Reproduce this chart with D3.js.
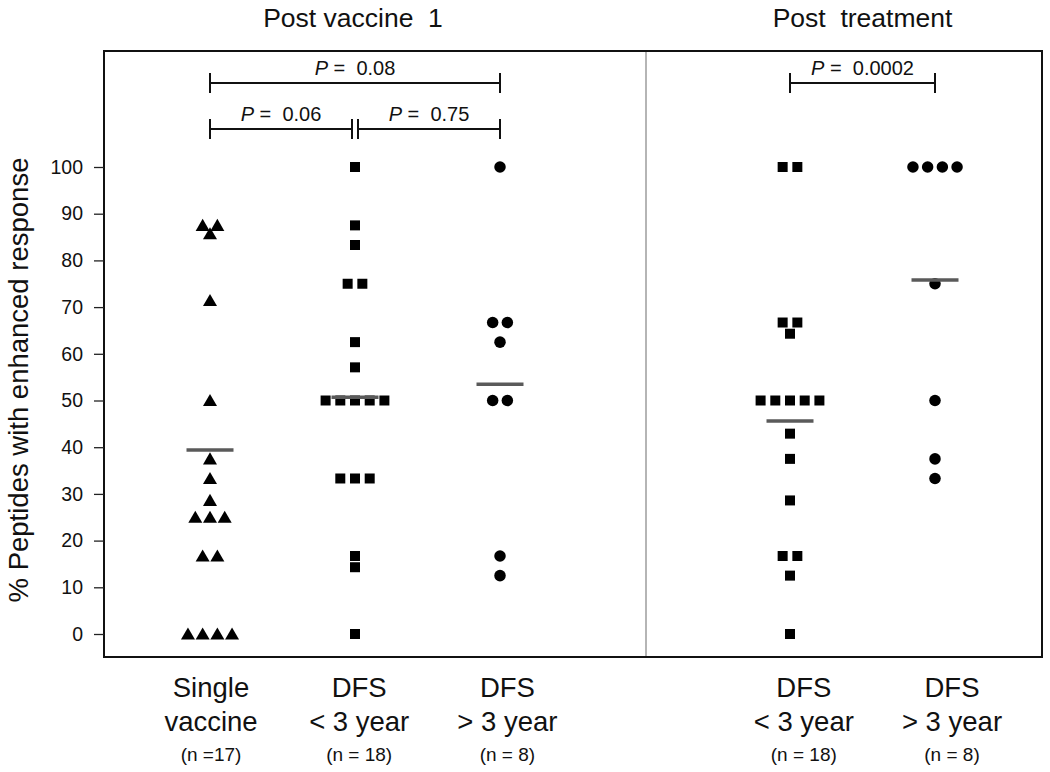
<!DOCTYPE html>
<html>
<head>
<meta charset="utf-8">
<script src="https://cdn.jsdelivr.net/npm/d3@7"></script>
<style>
  html, body { margin: 0; padding: 0; background: #fff; }
  svg { display: block; font-family: "Liberation Sans", Arial, Helvetica, sans-serif; }
  text { white-space: pre; }
</style>
</head>
<body>
<svg id="chart" width="1050" height="772"></svg>
<script>
// ---------------- DATA ----------------
const yTicks = [0, 10, 20, 30, 40, 50, 60, 70, 80, 90, 100];

const panelTitles = ["Post vaccine  1", "Post  treatment"];

const groupKeys = ["single", "pv1Lt3", "pv1Gt3", "ptLt3", "ptGt3"];
const slotKeys = ["single", "pv1Lt3", "pv1Gt3", "gap", "ptLt3", "ptGt3"];

const categoryLine1 = ["Single", "DFS", "DFS", "DFS", "DFS"];
const categoryLine2 = ["vaccine", "< 3 year", "> 3 year", "< 3 year", "> 3 year"];
const categoryN = ["(n =17)", "(n = 18)", "(n = 8)", "(n = 18)", "(n = 8)"];

const singleVaccine = [87.5, 87.5, 85.7, 71.4, 50, 37.5, 33.3, 28.6, 25, 25, 25, 16.7, 16.7, 0, 0, 0, 0];
const postVaccineDfsLt3 = [100, 87.5, 83.3, 75, 75, 62.5, 57.1, 50, 50, 50, 50, 50, 33.3, 33.3, 33.3, 16.7, 14.3, 0];
const postVaccineDfsGt3 = [100, 66.7, 66.7, 62.5, 50, 50, 16.7, 12.5];
const postTreatDfsLt3 = [100, 100, 66.7, 66.7, 64.3, 50, 50, 50, 50, 50, 42.9, 37.5, 28.6, 16.7, 16.7, 12.5, 0];
const postTreatDfsGt3 = [100, 100, 100, 100, 75, 50, 37.5, 33.3];

const groupMeans = [39.4, 50.7, 53.5, 45.6, 75.8];

const comparisonFrom = ["single", "single", "pv1Lt3", "ptLt3"];
const comparisonTo = ["pv1Gt3", "pv1Lt3", "pv1Gt3", "ptGt3"];
const comparisonP = ["0.08", "0.06", "0.75", "0.0002"];
const comparisonLevel = [1, 0, 0, 1];

// ---------------- LAYOUT ----------------
const seriesValues = [singleVaccine, postVaccineDfsLt3, postVaccineDfsGt3, postTreatDfsLt3, postTreatDfsGt3];
const groupShapes = [d3.symbolTriangle, d3.symbolSquare, d3.symbolCircle, d3.symbolSquare, d3.symbolCircle];
const shapeSizes = [85, 100, 104, 100, 104];

const frame = { left: 104, right: 1042, top: 51, bottom: 657 };
const svg = d3.select("#chart");

const y = d3.scaleLinear().domain([0, 100]).range([634, 167]);
const x = d3.scalePoint().domain(slotKeys).range([210, 935]);
const xLabel = d3.scalePoint().domain(slotKeys).range([211, 952]);
const dividerX = x("gap") + 1;
const swarmStep = 14.7;

// frame
svg.append("rect")
  .attr("x", frame.left).attr("y", frame.top)
  .attr("width", frame.right - frame.left).attr("height", frame.bottom - frame.top)
  .attr("fill", "none").attr("stroke", "#111").attr("stroke-width", 2);
svg.append("line")
  .attr("x1", dividerX).attr("x2", dividerX)
  .attr("y1", frame.top + 1).attr("y2", frame.bottom - 1)
  .attr("stroke", "#b5b5b5").attr("stroke-width", 2);

// y axis
const yAxis = d3.axisLeft(y).tickValues(yTicks).tickSize(10).tickPadding(11);
const gy = svg.append("g").attr("transform", `translate(${frame.left},0)`).call(yAxis);
gy.select(".domain").remove();
gy.selectAll(".tick line").attr("stroke", "#222").attr("stroke-width", 1.3);
gy.selectAll(".tick text").attr("font-size", 19.5).attr("fill", "#111")
  .attr("font-family", "'Liberation Sans', Arial, sans-serif");

// y label
svg.append("text")
  .attr("transform", `translate(28,380) rotate(-90)`)
  .attr("text-anchor", "middle").attr("font-size", 27.5).attr("fill", "#111")
  .text("% Peptides with enhanced response");

// panel titles
svg.append("text").attr("x", x("pv1Lt3") - 2).attr("y", 27)
  .attr("text-anchor", "middle").attr("font-size", 26.5).attr("fill", "#111").text(panelTitles[0]);
svg.append("text").attr("x", (x("ptLt3") + x("ptGt3")) / 2 + 0).attr("y", 27)
  .attr("text-anchor", "middle").attr("font-size", 26.5).attr("fill", "#111").text(panelTitles[1]);

// points (beeswarm: identical values placed side by side)
groupKeys.forEach((key, gi) => {
  const vals = seriesValues[gi];
  const rows = d3.groups(vals, v => v);
  const pts = [];
  rows.forEach(([v, arr]) => {
    arr.forEach((_, i) => pts.push({ v, off: (i - (arr.length - 1) / 2) * swarmStep }));
  });
  const sym = d3.symbol().type(groupShapes[gi]).size(shapeSizes[gi]);
  svg.append("g").selectAll("path").data(pts).join("path")
    .attr("d", sym)
    .attr("transform", d => {
      const dy = groupShapes[gi] === d3.symbolTriangle ? 1.5 : 0;
      return `translate(${x(key) + d.off},${y(d.v) + dy})`;
    })
    .attr("fill", "#000");
  // mean line
  svg.append("line")
    .attr("x1", x(key) - 23.5).attr("x2", x(key) + 23.5)
    .attr("y1", y(groupMeans[gi])).attr("y2", y(groupMeans[gi]))
    .attr("stroke", "#5a5a5a").attr("stroke-width", 3.5);
});

// comparison brackets
const levelY = [y(100) - 38, y(100) - 84];
comparisonFrom.forEach((from, ci) => {
  const to = comparisonTo[ci];
  const lvl = comparisonLevel[ci];
  const shared = (k) => comparisonFrom.some((f, j) => j !== ci && comparisonLevel[j] === lvl && (f === k || comparisonTo[j] === k));
  const x1 = x(from) + (shared(from) ? 3 : 0);
  const x2 = x(to) - (shared(to) ? 3 : 0);
  const by = levelY[lvl];
  const g = svg.append("g").attr("stroke", "#111").attr("stroke-width", 2);
  g.append("line").attr("x1", x1).attr("x2", x2).attr("y1", by).attr("y2", by);
  g.append("line").attr("x1", x1).attr("x2", x1).attr("y1", by - 10).attr("y2", by + 10);
  g.append("line").attr("x1", x2).attr("x2", x2).attr("y1", by - 10).attr("y2", by + 10);
  const t = svg.append("text").attr("x", (x1 + x2) / 2).attr("y", by - 8)
    .attr("text-anchor", "middle").attr("font-size", 20).attr("fill", "#111");
  t.append("tspan").attr("font-style", "italic").text("P");
  t.append("tspan").text(" =  " + comparisonP[ci]);
});

// category labels
groupKeys.forEach((key, gi) => {
  const cx = xLabel(key);
  svg.append("text").attr("x", cx).attr("y", 697).attr("text-anchor", "middle")
    .attr("font-size", 27.5).attr("fill", "#111").text(categoryLine1[gi]);
  svg.append("text").attr("x", cx).attr("y", 731).attr("text-anchor", "middle")
    .attr("font-size", 27.5).attr("fill", "#111").text(categoryLine2[gi]);
  svg.append("text").attr("x", cx).attr("y", 761).attr("text-anchor", "middle")
    .attr("font-size", 19).attr("fill", "#111").text(categoryN[gi]);
});
</script>
</body>
</html>
